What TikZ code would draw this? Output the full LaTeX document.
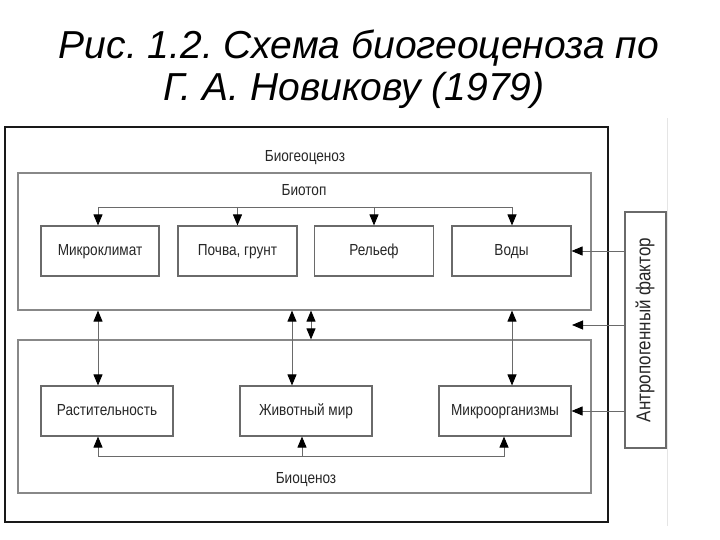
\documentclass[tikz,border=0pt]{standalone}
\usepackage{fontspec}
\setmainfont{Liberation Sans}
\newfontfamily\narfont[FakeStretch=0.85]{Liberation Sans}
\usetikzlibrary{arrows.meta,calc}
\definecolor{boxgray}{HTML}{6A6A6A}
\tikzset{
  lbl/.style={font=\narfont\fontsize{16}{18}\selectfont, text=black!85, inner sep=0pt},
  elem/.style={draw=boxgray, line width=1.1pt, minimum height=50pt, inner sep=0pt,
     text height=11.5pt, text depth=3pt,
     font=\narfont\fontsize{16}{18}\selectfont, text=black!85},
  frame/.style={draw=boxgray!80, line width=1.2pt},
  conn/.style={draw=boxgray, line width=0.9pt, >={Triangle[length=11pt,width=9pt,color=black]}, arrows={-}},
  title/.style={font=\itshape\fontsize{39}{42}\selectfont, inner sep=0pt, anchor=base},
}
\begin{document}
\frenchspacing
\begin{tikzpicture}[x=1pt,y=-1pt]
\useasboundingbox (0,0) rectangle (720,540);
% title
\node[title] (t1) at (359,59) {Рис. 1.2. Схема биогеоценоза по};
\node[title] (t2) at (354,101) {Г. А. Новикову (1979)};
% faint image edge
\draw[black!10, line width=0.8pt] (667,118) -- (667,526);
% outer frame
\node[draw=black!90, line width=2.8pt, minimum width=603pt, minimum height=395pt, inner sep=0pt] (outer) at (306.5,324.5) {};
\node[lbl] (bgc) at (305,158) {Биогеоценоз};
% biotop
\node[frame, minimum width=573pt, minimum height=137pt, inner sep=0pt] (biotop) at (304.5,241.5) {};
\node[lbl] (btl) at (304,190) {Биотоп};
% biocenosis
\node[frame, minimum width=573pt, minimum height=153pt, inner sep=0pt] (biocen) at (304.5,416.5) {};
\node[lbl] (bcl) at (306,480) {Биоценоз};
% top row
\node[elem, minimum width=118pt] (mk) at (100,251) {Микроклимат};
\node[elem, minimum width=119pt] (pg) at (237.5,251) {Почва, грунт};
\node[elem, minimum width=119pt] (rl) at (374,251) {Рельеф};
\node[elem, minimum width=119pt] (vo) at (511.5,251) {Воды};
% bottom row
\node[elem, minimum width=132pt] (ra) at (107,411) {Растительность};
\node[elem, minimum width=132pt] (zh) at (306,411) {Животный мир};
\node[elem, minimum width=132pt] (mo) at (505,411) {Микроорганизмы};
% anthropogenic factor
\node[draw=boxgray, line width=1.1pt, minimum width=41pt, minimum height=236pt, inner sep=0pt] (an) at (645.5,330) {};
\node[font=\narfont\fontsize{20}{22}\selectfont, text=black!85, rotate=90, inner sep=0pt] (anl) at (645,330) {Антропогенный фактор};
% helper coordinates
\coordinate (tb) at (0,207);
\coordinate (bb) at (0,456);
\coordinate (x1) at (98,0);
\coordinate (x2) at (292,0);
\coordinate (x3) at (311,0);
\coordinate (x4) at (512,0);
\coordinate (y1) at (302,0);
\coordinate (y2) at (504,0);
\coordinate (gap) at (572,325);
% top distribution
\draw[conn, <->] (mk.north -| x1) -- (tb -| x1) -- (tb -| x4) -- (vo.north -| x4);
\draw[conn, ->] (tb -| pg.north) -- (pg.north);
\draw[conn, ->] (tb -| rl.north) -- (rl.north);
% biotop <-> biocenosis
\draw[conn, <->] (biotop.south -| x1) -- (ra.north -| x1);
\draw[conn, <->] (biotop.south -| x2) -- (zh.north -| x2);
\draw[conn, <->] (biotop.south -| x4) -- (mo.north -| x4);
\draw[conn, <->] (biotop.south -| x3) -- (biocen.north -| x3);
% bottom bus
\draw[conn, <->] (ra.south -| x1) -- (bb -| x1) -- (bb -| y2) -- (mo.south -| y2);
\draw[conn, ->] (bb -| y1) -- (zh.south -| y1);
% anthropogenic arrows
\draw[conn, ->] (an.west |- vo.east) -- (vo.east);
\draw[conn, ->] (an.west |- gap) -- (gap);
\draw[conn, ->] (an.west |- mo.east) -- (mo.east);
\end{tikzpicture}
\end{document}
